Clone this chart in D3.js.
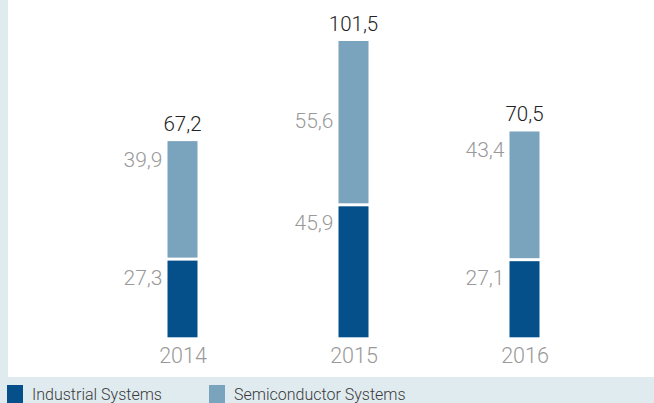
<!DOCTYPE html>
<html>
<head>
<meta charset="utf-8">
<script src="https://cdn.jsdelivr.net/npm/d3@7"></script>
<style>
    html,body{margin:0;padding:0;background:#fff;}
    svg{display:block;}
    text{font-family:Roboto,"Liberation Sans",sans-serif;font-weight:300;}
</style>
</head>
<body>
<main><div></div></main>
<script>
// data
const years = ['2014','2015','2016'];
const industrial = [27.3, 45.9, 27.1];
const semiconductor = [39.9, 55.6, 43.4];
const totals = [67.2, 101.5, 70.5];
const seriesNames = ['Industrial Systems','Semiconductor Systems'];

// label offsets (px below segment top) - 2015 semi label sits lower
const semiLabelDy = [26, 87, 26];

document.addEventListener('DOMContentLoaded',()=>{
    const w = 654;
    const h = 403;
    const darkBlue = '#05508a';
    const lightBlue = '#7aa3be';
    const stripColor = '#e0ebf0';
    const barW = 30;
    const gap = 3;
    const fmt = (v)=>d3.format('.1f')(v).replace('.',',');

    const chart = d3.select('main')
                    .select('div')
                    .append('svg')
                    .attr('width',w)
                    .attr('height',h)

    // background strips (left + legend)
    chart.append('rect')
        .attr('x',0).attr('y',0)
        .attr('width',8).attr('height',h)
        .attr('fill',stripColor)
    chart.append('rect')
        .attr('x',0).attr('y',377)
        .attr('width',w).attr('height',h-377)
        .attr('fill',stripColor)

    const xScale = d3.scalePoint()
                    .domain(years)
                    .range([182.5,524.5])

    const yScale = d3.scaleLinear()
                    .domain([0,101.5])
                    .range([337.3,41])

    const data = years.map((y,i)=>({year:y,ind:industrial[i],semi:semiconductor[i],total:totals[i],dy:semiLabelDy[i]}))

    // industrial (bottom)
    chart.selectAll('rect.ind')
        .data(data)
        .enter()
        .append('rect')
        .attr('class','ind')
        .attr('x',(d)=>xScale(d.year)-barW/2)
        .attr('y',(d)=>yScale(d.ind)+gap)
        .attr('width',barW)
        .attr('height',(d)=>yScale(0)-yScale(d.ind)-gap)
        .attr('fill',darkBlue)

    // semiconductor (top)
    chart.selectAll('rect.semi')
        .data(data)
        .enter()
        .append('rect')
        .attr('class','semi')
        .attr('x',(d)=>xScale(d.year)-barW/2)
        .attr('y',(d)=>yScale(d.ind+d.semi))
        .attr('width',barW)
        .attr('height',(d)=>yScale(d.ind)-yScale(d.ind+d.semi))
        .attr('fill',lightBlue)

    // segment labels
    chart.selectAll('text.indLabel')
        .data(data)
        .enter()
        .append('text')
        .attr('x',(d)=>xScale(d.year)-barW/2-5)
        .attr('y',(d)=>yScale(d.ind)+gap+24)
        .attr('text-anchor','end')
        .attr('font-size',21)
        .attr('fill','#999')
        .text((d)=>fmt(d.ind))

    chart.selectAll('text.semiLabel')
        .data(data)
        .enter()
        .append('text')
        .attr('x',(d)=>xScale(d.year)-barW/2-5)
        .attr('y',(d)=>yScale(d.ind+d.semi)+d.dy)
        .attr('text-anchor','end')
        .attr('font-size',21)
        .attr('fill','#999')
        .text((d)=>fmt(d.semi))

    // totals
    chart.selectAll('text.total')
        .data(data)
        .enter()
        .append('text')
        .attr('x',(d)=>xScale(d.year))
        .attr('y',(d)=>yScale(d.ind+d.semi)-10)
        .attr('text-anchor','middle')
        .attr('font-size',20.5)
        .attr('fill','#222')
        .text((d)=>fmt(d.total))

    // x axis
    const xAxis = chart.append('g')
                    .attr('id','x-axis')
                    .attr('transform','translate(0,'+yScale(0)+')')
                    .call(d3.axisBottom(xScale).tickSize(0).tickPadding(6))
    xAxis.select('.domain').remove()
    xAxis.selectAll('text')
        .attr('font-size',21.5)
        .attr('fill','#999')
        .attr('dy','0.9em')
        .style('font-family','Roboto,"Liberation Sans",sans-serif')
        .style('font-weight',300)

    // legend
    const legendX = [7,209];
    const legend = chart.selectAll('g.legend')
                    .data(seriesNames)
                    .enter()
                    .append('g')
                    .attr('class','legend')
                    .attr('transform',(d,i)=>'translate('+legendX[i]+',385)')
    legend.append('rect')
        .attr('width',16)
        .attr('height',18)
        .attr('fill',(d,i)=>i===0?darkBlue:lightBlue)
    legend.append('text')
        .attr('x',25)
        .attr('y',14.5)
        .attr('font-size',16)
        .attr('fill','#3a3a3a')
        .text((d)=>d)
});
</script>
</body>
</html>
